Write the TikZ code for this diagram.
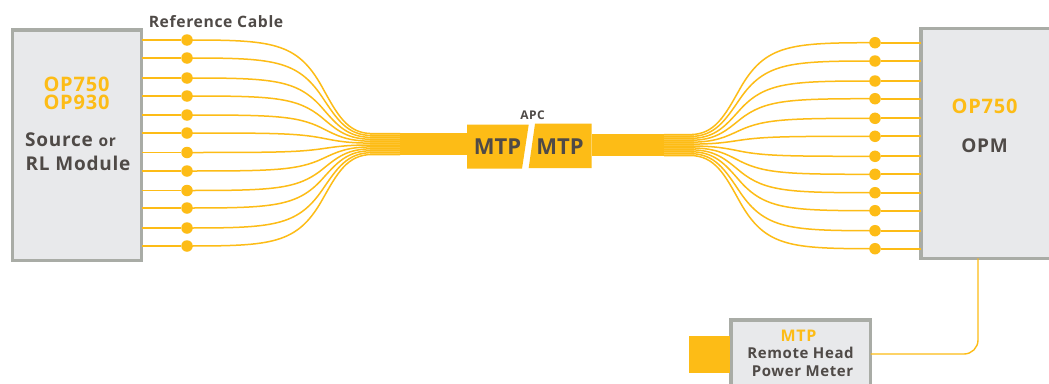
\documentclass[tikz,border=0pt]{standalone}
\usepackage{fontspec}
\setmainfont{Open Sans}
\newfontfamily\spaced[LetterSpace=4]{Open Sans}
\definecolor{amber}{HTML}{FDBC16}
\definecolor{fan}{HTML}{FDD56A}
\definecolor{txtgrey}{HTML}{4F4A47}
\definecolor{boxfill}{HTML}{E8E9EB}
\definecolor{boxline}{HTML}{A9ACA6}
\tikzset{
  devbox/.style={draw=boxline,fill=boxfill,line width=3.2pt,inner sep=0,outer sep=0,anchor=north west},
  fdot/.style={circle,fill=amber,minimum size=11.5pt,inner sep=0,outer sep=0},
  stub/.style={draw=amber,line width=1.8pt},
  fiber/.style={draw=amber,line width=1.5pt},
  ribbon/.style={fill=amber,inner sep=0,outer sep=0,anchor=north west},
  fanfill/.style={fill=fan,inner sep=0,outer sep=0,anchor=north west},
  lbl/.style={inner sep=0,outer sep=0,text=txtgrey,font=\bfseries\spaced\fontsize{#1}{#1}\selectfont,anchor=base},
  lbl/.default=18,
  ylbl/.style={lbl=#1,text=amber}
}
\begin{document}
\begin{tikzpicture}[x=1pt,y=-1pt]
\clip (0,0) rectangle (1049,383);
\fill[white] (0,0) rectangle (1049,383);
% device boxes
\node[devbox,minimum width=129pt,minimum height=230.5pt] (src) at (12.5,30) {};
\node[devbox,minimum width=160pt,minimum height=230pt] (opm) at (921,28.4) {};
\node[devbox,minimum width=139.7pt,minimum height=90pt] (rh) at (731,320) {};
% ribbons and connectors
\node[fanfill,minimum width=30pt,minimum height=21pt] (fanL) at (370,133.6) {};
\node[fanfill,minimum width=30pt,minimum height=21pt] (fanR) at (664,134.6) {};
\node[ribbon,minimum width=67pt,minimum height=22pt] (ribL) at (400,133) {};
\node[ribbon,minimum width=72pt,minimum height=22pt] (ribR) at (592,134) {};
\fill[amber] (467,124.7) -- (528.7,124.7) -- (522,168.7) -- (467,168.7) -- cycle;
\fill[amber] (535,123.7) -- (591.7,123.7) -- (591.7,168) -- (528.7,168) -- cycle;
\node[ribbon,minimum width=41pt,minimum height=37pt] (head) at (689,336) {};
% left fibres
\foreach \i/\d in {0/40,1/58,2/78,3/96,4/115,5/133,6/152.5,7/171,8/190.5,9/208,10/228,11/246}{
  \pgfmathsetmacro{\e}{133.6+\i*1.9}
  \pgfmathsetmacro{\h}{\e-\d}
  \pgfmathsetmacro{\yb}{\d+0.02*\h}
  \pgfmathsetmacro{\ym}{\d+0.5*\h}
  \pgfmathsetmacro{\yc}{\d+0.79*\h}
  \node[fdot] (dl\i) at (187,\d) {};
  \coordinate (el\i) at (400,\e);
  \draw[stub] (src.east |- dl\i) -- (dl\i);
  \draw[fiber] (dl\i.center) .. controls (272,\d) and (297,\yb) .. (322,\ym)
     .. controls (337,\yc) and (347,\e) .. (372,\e) -- (el\i);
}
% right fibres
\foreach \i/\d in {0/42.7,1/61,2/81,3/98.7,4/118.3,5/136.3,6/156.3,7/174.3,8/192.7,9/210.7,10/230.7,11/248.7}{
  \pgfmathsetmacro{\e}{134.6+\i*1.9}
  \pgfmathsetmacro{\h}{\e-\d}
  \pgfmathsetmacro{\yb}{\d+0.02*\h}
  \pgfmathsetmacro{\ym}{\d+0.5*\h}
  \pgfmathsetmacro{\yc}{\d+0.79*\h}
  \node[fdot] (dr\i) at (875,\d) {};
  \coordinate (er\i) at (664,\e);
  \draw[stub] (opm.west |- dr\i) -- (dr\i);
  \draw[fiber] (dr\i.center) .. controls (790,\d) and (765,\yb) .. (740,\ym)
     .. controls (725,\yc) and (715,\e) .. (690,\e) -- (er\i);
}
% remote head link
\draw[draw=amber,line width=1.4pt,rounded corners=14pt] (opm.south -| 978,260) -- (978,354) -- (rh.east |- 978,354);
% labels
\node[lbl=15.7] (reflbl) at (216,27) {Reference Cable};
\node[ylbl=20] (a1) at (76.5,91) {OP750};
\node[ylbl=20] (a2) at (76.5,109) {OP930};
\node[lbl=19] (a3) at (70.5,146) {Source {\fontsize{15.5}{15.5}\selectfont or}};
\node[lbl=19] (a4) at (78,170) {RL Module};
\node[lbl=12] (apc) at (532.5,119) {APC};
\node[lbl=22] (m1) at (497.5,154.5) {\addfontfeature{LetterSpace=0}MTP};
\node[lbl=22] (m2) at (560,154.5) {\addfontfeature{LetterSpace=0}MTP};
\node[ylbl=20] (b1) at (984.5,113) {OP750};
\node[lbl=19] (b2) at (984.5,152) {OPM};
\node[ylbl=16] (c1) at (798.5,341) {MTP};
\node[lbl=15] (c2) at (800.5,358) {Remote Head};
\node[lbl=15] (c3) at (802.5,376) {Power Meter};
\end{tikzpicture}
\end{document}
